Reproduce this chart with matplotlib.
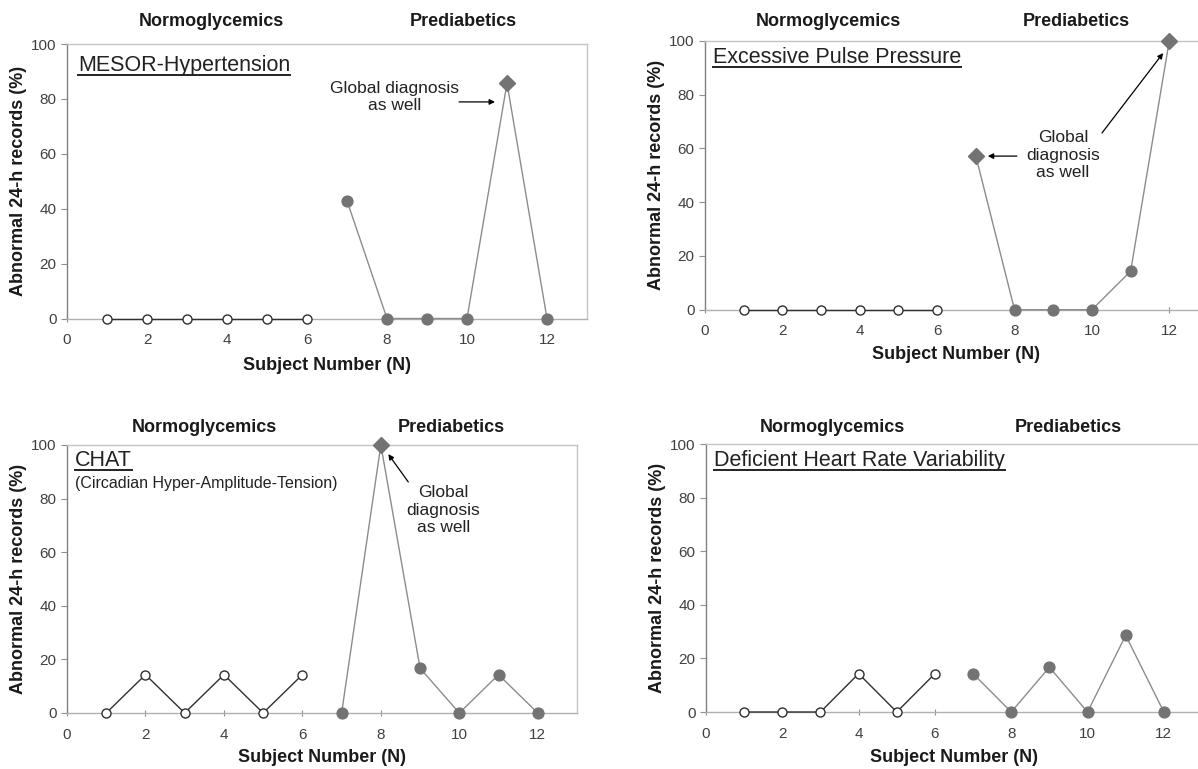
import matplotlib
matplotlib.use("Agg")
import matplotlib.pyplot as plt
from matplotlib.lines import Line2D

plt.rcParams['font.family'] = ['Liberation Sans', 'DejaVu Sans']

# Subject numbers for each group
subjects_norm = [1, 2, 3, 4, 5, 6]
subjects_pred = [7, 8, 9, 10, 11, 12]

# Percent of abnormal 24-h records
mesor_norm = [0, 0, 0, 0, 0, 0]
mesor_pred = [42.9, 0, 0, 0, 85.7, 0]
mesor_global = [11]

epp_norm = [0, 0, 0, 0, 0, 0]
epp_pred = [57.1, 0, 0, 0, 14.3, 100]
epp_global = [7, 12]

chat_norm = [0, 14.3, 0, 14.3, 0, 14.3]
chat_pred = [0, 100, 16.7, 0, 14.3, 0]
chat_global = [8]

hrv_norm = [0, 0, 0, 14.3, 0, 14.3]
hrv_pred = [14.3, 0, 16.7, 0, 28.6, 0]
hrv_global = []

x_ticks = [0, 2, 4, 6, 8, 10, 12]
y_ticks = [0, 20, 40, 60, 80, 100]

W, H = 1198, 769
fig = plt.figure(figsize=(W / 100, H / 100), dpi=100)


def make_axes(left, right, top, bottom):
    return fig.add_axes([left / W, 1 - bottom / H, (right - left) / W, (bottom - top) / H])


def draw_panel(ax, norm, pred, glob, px_w, px_h, xlab_off, grp_off, grp_x):
    ax.set_xlim(0, 13)
    ax.set_ylim(0, 100)
    ax.plot(subjects_norm, norm, color="#303030", lw=1.0, marker="o", ms=6.5,
            mfc="white", mec="#303030", mew=1.0, zorder=4, clip_on=False)
    ax.plot(subjects_pred, pred, color="#8c8c8c", lw=1.0, zorder=3, clip_on=False)
    xc = [x for x, v in zip(subjects_pred, pred) if x not in glob]
    yc = [v for x, v in zip(subjects_pred, pred) if x not in glob]
    ax.plot(xc, yc, ls="none", marker="o", ms=7.8, color="#737373", zorder=5, clip_on=False)
    xd = [x for x in subjects_pred if x in glob]
    yd = [v for x, v in zip(subjects_pred, pred) if x in glob]
    ax.plot(xd, yd, ls="none", marker="D", ms=8.5, color="#737373", zorder=5, clip_on=False)

    ax.set_xticks(x_ticks)
    ax.set_yticks(y_ticks)
    ax.tick_params(axis="both", labelsize=11, labelcolor="#404040", color="#909090")
    ax.tick_params(axis="y", direction="out", length=4)
    ax.tick_params(axis="x", direction="inout", length=5, pad=8)
    ax.spines["left"].set_color("#808080")
    ax.spines["bottom"].set_color("#b0b0b0")
    ax.spines["top"].set_color("#c4c4c4")
    ax.spines["right"].set_color("#c4c4c4")
    for s in ax.spines.values():
        s.set_linewidth(1.0)

    ax.set_ylabel("Abnormal 24-h records (%)", fontsize=13, fontweight="bold", color="#1a1a1a")
    ax.yaxis.set_label_coords(-40 / px_w, 0.5)
    ax.set_xlabel("Subject Number (N)", fontsize=13, fontweight="bold", color="#1a1a1a")
    ax.xaxis.set_label_coords(0.5, -xlab_off / px_h)

    tr = ax.get_xaxis_transform()
    ax.text(grp_x[0], 1 + grp_off / px_h, "Normoglycemics", transform=tr, ha="center",
            va="center", fontsize=13, fontweight="bold", color="#1a1a1a")
    ax.text(grp_x[1], 1 + grp_off / px_h, "Prediabetics", transform=tr, ha="center",
            va="center", fontsize=13, fontweight="bold", color="#1a1a1a")


def underlined_title(ax, x, y, label):
    t = ax.text(x, y, label, transform=ax.transAxes, ha="left", va="center",
                fontsize=15.5, color="#222222")
    return t


arrow = dict(arrowstyle="-|>", color="black", lw=0.9, mutation_scale=8, shrinkA=0, shrinkB=0)
note_kw = dict(ha="center", va="center", fontsize=12.5, color="#222222", linespacing=1.2)

# Panel 1: MESOR-Hypertension
ax1 = make_axes(67, 587, 44, 318.5)
draw_panel(ax1, mesor_norm, mesor_pred, mesor_global, 520, 274.5, 39, 22, (3.6, 9.9))
t1 = underlined_title(ax1, 0.021, 0.923, "MESOR-Hypertension")
ax1.text(8.18, 80.7, "Global diagnosis\nas well", **note_kw)
ax1.annotate("", xy=(10.7, 78.9), xytext=(9.8, 78.9), arrowprops=arrow)

# Panel 2: Excessive Pulse Pressure
ax2 = make_axes(705, 1208, 40.7, 309.7)
draw_panel(ax2, epp_norm, epp_pred, epp_global, 503, 269, 36, 19, (3.2, 9.6))
t2 = underlined_title(ax2, 0.016, 0.936, "Excessive Pulse Pressure")
ax2.text(9.25, 57.5, "Global\ndiagnosis\nas well", **note_kw)
ax2.annotate("", xy=(7.31, 57.1), xytext=(8.06, 57.1), arrowprops=arrow)
ax2.annotate("", xy=(11.84, 95.4), xytext=(10.26, 65.7), arrowprops=arrow)

# Panel 3: CHAT
ax3 = make_axes(67, 577, 445, 713)
draw_panel(ax3, chat_norm, chat_pred, chat_global, 510, 268, 36, 18, (3.5, 9.8))
t3 = underlined_title(ax3, 0.016, 0.944, "CHAT")
ax3.text(0.016, 0.858, "(Circadian Hyper-Amplitude-Tension)", transform=ax3.transAxes,
         ha="left", va="center", fontsize=11.5, color="#222222")
ax3.text(9.6, 75.7, "Global\ndiagnosis\nas well", **note_kw)
ax3.annotate("", xy=(8.19, 96.6), xytext=(8.7, 86.2), arrowprops=arrow)

# Panel 4: Deficient Heart Rate Variability
ax4 = make_axes(706, 1202, 444, 712)
draw_panel(ax4, hrv_norm, hrv_pred, hrv_global, 496, 268, 37, 17, (3.3, 9.5))
t4 = underlined_title(ax4, 0.016, 0.937, "Deficient Heart Rate Variability")

# underline the panel titles
fig.canvas.draw()
renderer = fig.canvas.get_renderer()
inv = fig.transFigure.inverted()
for t in (t1, t2, t3, t4):
    bb = t.get_window_extent(renderer)
    (x0, y0), (x1, _) = inv.transform([(bb.x0, bb.y0 + 1), (bb.x1, bb.y0 + 1)])
    fig.add_artist(Line2D([x0, x1], [y0, y0], transform=fig.transFigure,
                          color="#222222", lw=1.4))

fig.savefig("out.png", dpi=100)
